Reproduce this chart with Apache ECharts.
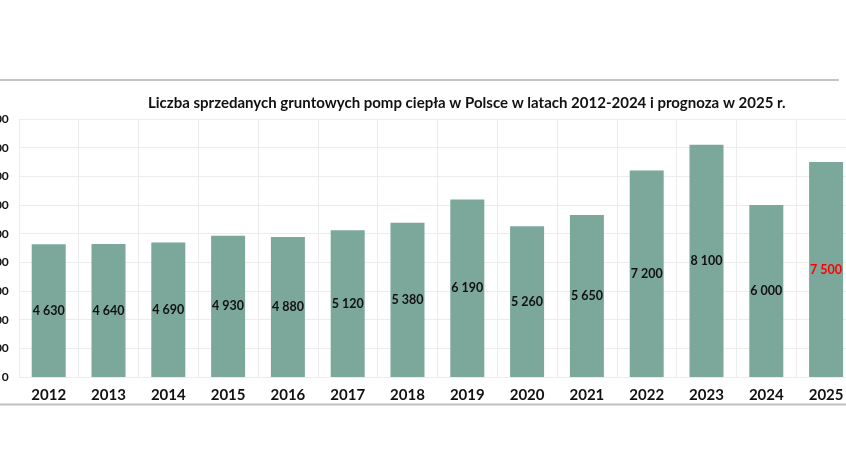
<!DOCTYPE html>
<html>
<head>
<meta charset="utf-8">
<script src="https://cdn.jsdelivr.net/npm/echarts@6/dist/echarts.min.js"></script>
<style>
html,body{margin:0;padding:0;background:#fff;}
#c{width:846px;height:476px;}
</style>
</head>
<body>
<div id="c"></div>
<script>
const titleText = 'Liczba sprzedanych gruntowych pomp ciepła w Polsce w latach 2012-2024 i prognoza w 2025 r.';
const years = ['2012','2013','2014','2015','2016','2017','2018','2019','2020','2021','2022','2023','2024','2025'];
const sales = [4630, 4640, 4690, 4930, 4880, 5120, 5380, 6190, 5260, 5650, 7200, 8100, 6000, 7500];
const forecastYear = '2025';

function fmt(v){ return String(v).replace(/\B(?=(\d{3})+(?!\d))/g, ' '); }

const chart = echarts.init(document.getElementById('c'), null, {renderer:'canvas'});
chart.setOption({
  animation:false,
  backgroundColor:'#ffffff',
  title:{
    text:titleText,
    left:143, top:91,
    textStyle:{fontFamily:'Lato', fontWeight:'bold', fontSize:15, color:'#111'}
  },
  graphic:[
    {type:'line', shape:{x1:0,y1:80,x2:839,y2:80}, style:{stroke:'#b0b0b0', lineWidth:1.5}},
    {type:'line', shape:{x1:0,y1:404.5,x2:846,y2:404.5}, style:{stroke:'#c0c0c0', lineWidth:2}}
  ],
  grid:{left:18.8, right:-10, top:119, bottom:99, containLabel:false, outerBoundsMode:'none'},
  xAxis:{
    type:'category', data:years,
    axisLine:{show:false}, axisTick:{show:false},
    splitLine:{show:true, lineStyle:{color:'#ececec', width:1}},
    axisLabel:{fontFamily:'Lato', fontWeight:'bold', fontSize:15, color:'#111', margin:11}
  },
  yAxis:{
    type:'value', min:0, max:9000, interval:1000,
    axisLine:{show:false}, axisTick:{show:false},
    splitLine:{lineStyle:{color:'#ececec', width:1}},
    axisLabel:{fontFamily:'Lato', fontWeight:'bold', fontSize:12, color:'#111', margin:10, formatter:fmt}
  },
  series:[{
    type:'bar',
    data:years.map((y,i)=>({value:sales[i], label:{color: y===forecastYear ? '#ff0000' : '#111'}})),
    barWidth:34,
    itemStyle:{color:'#7BA89B'},
    label:{show:true, position:'inside', fontFamily:'Lato', fontWeight:'bold', fontSize:12.5, formatter:p=>fmt(p.value)}
  }]
});
</script>
</body>
</html>
